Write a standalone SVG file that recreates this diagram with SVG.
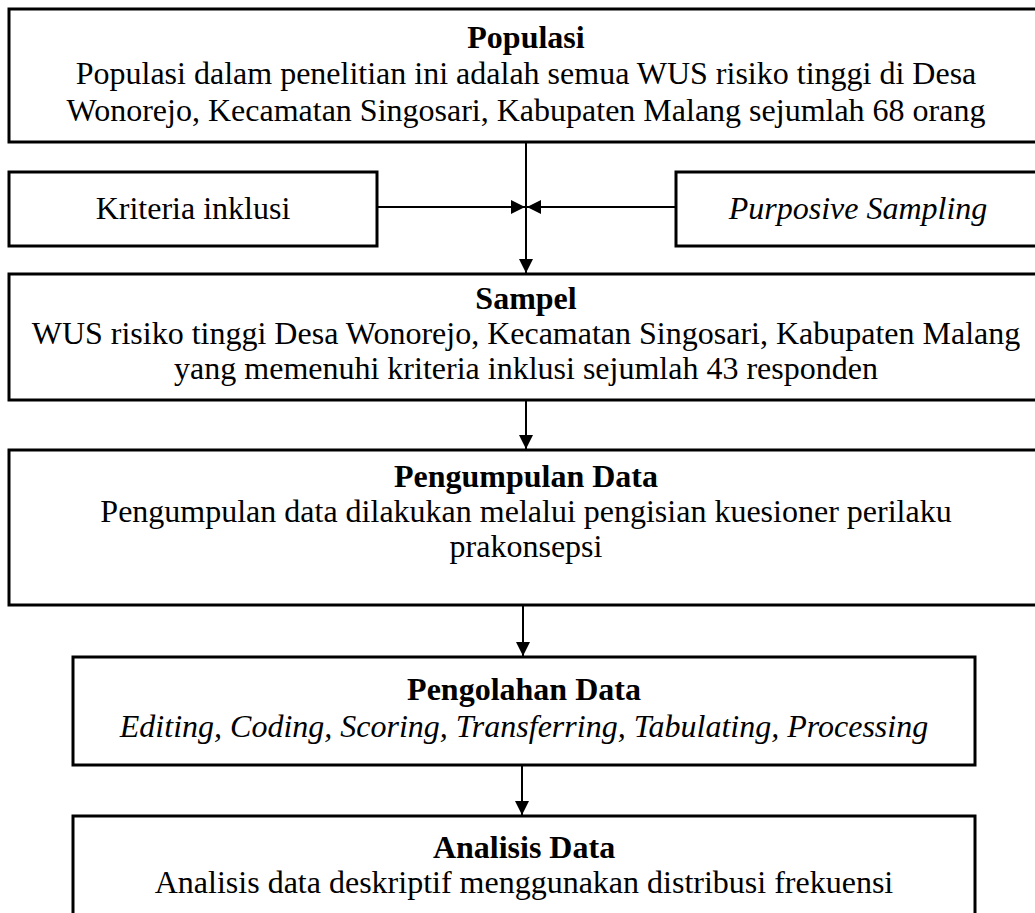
<svg xmlns="http://www.w3.org/2000/svg" width="1035" height="913" viewBox="0 0 1035 913">
<defs>
<style>
.box{fill:#fff;stroke:#000;stroke-width:3}
.t{font-family:"Liberation Serif","Times New Roman",serif;font-size:32px;fill:#000;text-anchor:middle}
.b{font-weight:bold}
.i{font-style:italic}
.c{stroke:#000;stroke-width:2;fill:none}
</style>
<marker id="ah" viewBox="0 0 10 10" refX="10" refY="5" markerWidth="15" markerHeight="14" markerUnits="userSpaceOnUse" orient="auto">
<path d="M0,0 L10,5 L0,10 Z" fill="#000"/>
</marker>
</defs>
<rect width="1035" height="913" fill="#fff"/>
<g id="populasi">
<rect class="box" x="9" y="9" width="1034" height="133"/>
<text class="t"><tspan class="b" x="526" y="48">Populasi</tspan><tspan x="526" y="84">Populasi dalam penelitian ini adalah semua WUS risiko tinggi di Desa</tspan><tspan x="526" y="121">Wonorejo, Kecamatan Singosari, Kabupaten Malang sejumlah 68 orang</tspan></text>
</g>
<g id="kriteria">
<rect class="box" x="9" y="172" width="368" height="74"/>
<text class="t" x="193" y="219">Kriteria inklusi</text>
</g>
<g id="purposive">
<rect class="box" x="676" y="172" width="366" height="74"/>
<text class="t i" x="858" y="219">Purposive Sampling</text>
</g>
<g id="sampel">
<rect class="box" x="9" y="274" width="1034" height="126"/>
<text class="t"><tspan class="b" x="526" y="309">Sampel</tspan><tspan x="526" y="344">WUS risiko tinggi Desa Wonorejo, Kecamatan Singosari, Kabupaten Malang</tspan><tspan x="526" y="379">yang memenuhi kriteria inklusi sejumlah 43 responden</tspan></text>
</g>
<g id="pengumpulan">
<rect class="box" x="9" y="450" width="1034" height="155"/>
<text class="t"><tspan class="b" x="526" y="487">Pengumpulan Data</tspan><tspan x="526" y="522">Pengumpulan data dilakukan melalui pengisian kuesioner perilaku</tspan><tspan x="526" y="557">prakonsepsi</tspan></text>
</g>
<g id="pengolahan">
<rect class="box" x="73" y="657" width="902" height="108"/>
<text class="t"><tspan class="b" x="524" y="700">Pengolahan Data</tspan><tspan class="i" x="524" y="737">Editing, Coding, Scoring, Transferring, Tabulating, Processing</tspan></text>
</g>
<g id="analisis">
<rect class="box" x="73" y="816" width="902" height="130"/>
<text class="t"><tspan class="b" x="524" y="858">Analisis Data</tspan><tspan x="524" y="893">Analisis data deskriptif menggunakan distribusi frekuensi</tspan></text>
</g>
<g id="connectors">
<line class="c" x1="526" y1="142" x2="526" y2="273" marker-end="url(#ah)"/>
<line class="c" x1="377" y1="207" x2="525" y2="207" marker-end="url(#ah)"/>
<line class="c" x1="676" y1="207" x2="527" y2="207" marker-end="url(#ah)"/>
<line class="c" x1="526" y1="400" x2="526" y2="449" marker-end="url(#ah)"/>
<line class="c" x1="523" y1="605" x2="523" y2="656" marker-end="url(#ah)"/>
<line class="c" x1="522" y1="765" x2="522" y2="815" marker-end="url(#ah)"/>
</g>
</svg>
